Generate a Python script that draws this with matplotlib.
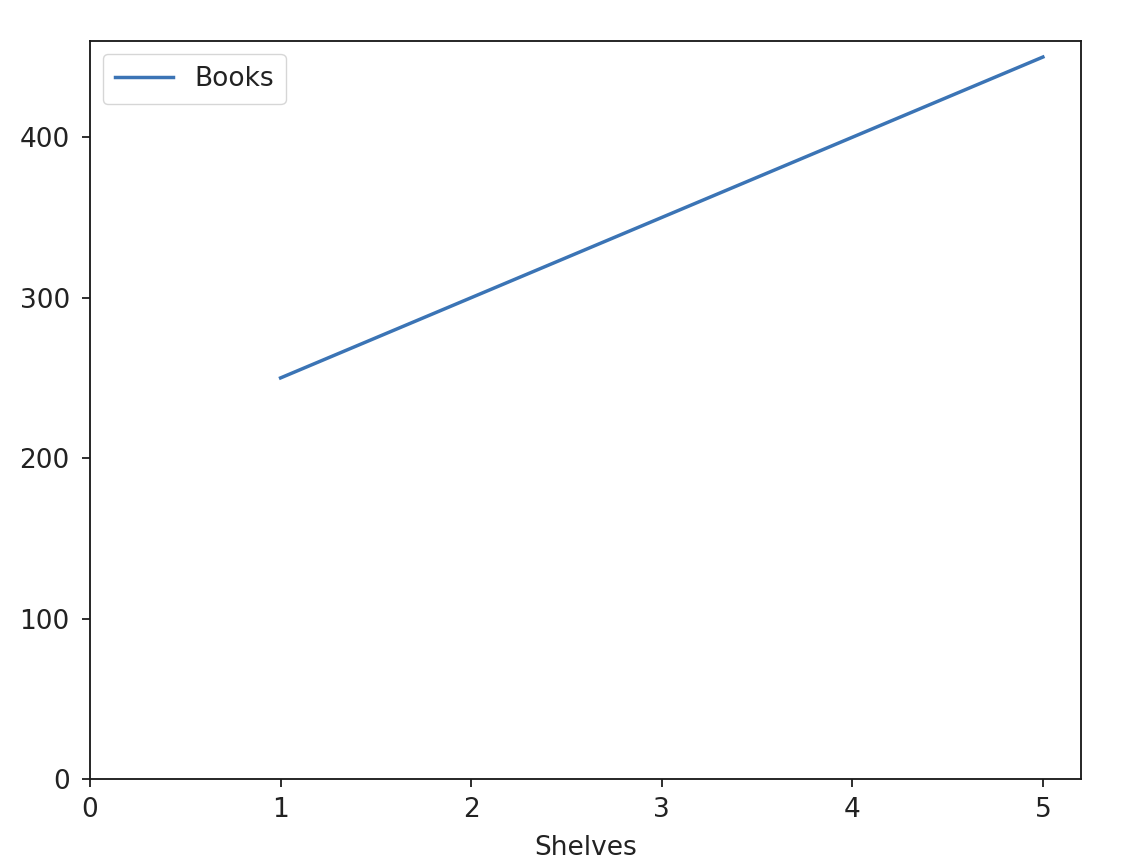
import matplotlib
matplotlib.use("Agg")
import matplotlib.pyplot as plt

shelves = [1, 2, 3, 4, 5]
books = [250, 300, 350, 400, 450]
series_label = "Books"
x_label = "Shelves"

s = 1.66
fs = 19
txt = "#222222"
plt.rcParams.update({
    "font.family": "DejaVu Sans",
    "font.size": fs,
    "text.color": txt,
    "axes.labelcolor": txt,
    "xtick.color": txt,
    "ytick.color": txt,
    "axes.edgecolor": "#1a1a1a",
    "axes.linewidth": 0.8 * s,
    "xtick.major.width": 0.8 * s,
    "ytick.major.width": 0.8 * s,
    "xtick.major.size": 3.5 * s,
    "ytick.major.size": 3.5 * s,
    "xtick.major.pad": 7.0,
    "ytick.major.pad": 8.7,
})

fig = plt.figure(figsize=(11.3, 8.66), dpi=100)
ax = fig.add_axes([90 / 1130, 1 - 779 / 866, (1081 - 90) / 1130, (779 - 41) / 866])
ax.plot(shelves, books, color="#3b74b5", lw=1.5 * s, label=series_label)
ax.set_xlim(left=0)
ax.set_ylim(bottom=0)
ax.set_xlabel(x_label, labelpad=9)
ax.legend(loc="upper left", handlelength=2.2, borderaxespad=0.5, borderpad=0.45)
fig.savefig("out.png", dpi=100)
